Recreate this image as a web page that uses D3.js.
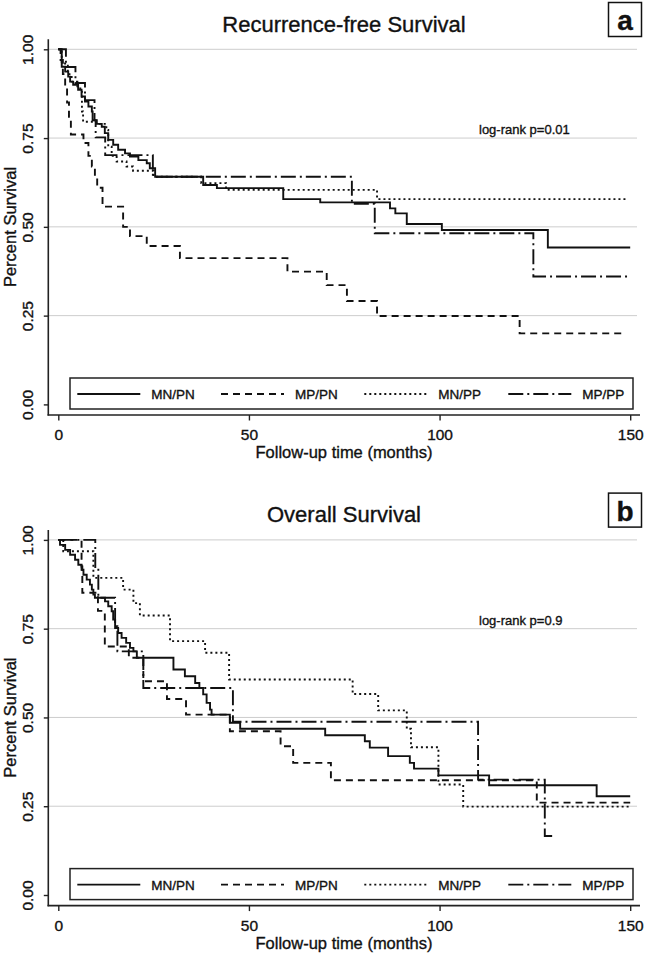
<!DOCTYPE html>
<html>
<head>
<meta charset="utf-8">
<script src="https://cdn.jsdelivr.net/npm/d3@7/dist/d3.min.js"></script>
<style>
  html, body { margin: 0; padding: 0; background: #fff; }
  svg { display: block; font-family: "Liberation Sans", Arial, Helvetica, sans-serif; }
  svg text { stroke: #111; stroke-width: 0.35px; }
</style>
</head>
<body>
<svg id="chart" width="646" height="955"></svg>
<script>
// ---------- DATA ----------
const groups = ["MN/PN", "MP/PN", "MN/PP", "MP/PP"];
const xTicks = [0, 50, 100, 150];
const yTicks = [0, 0.25, 0.5, 0.75, 1];
const yTickLabels = ["0.00", "0.25", "0.50", "0.75", "1.00"];
const panelTitles = ["Recurrence-free Survival", "Overall Survival"];
const panelLetters = ["a", "b"];
const logrankTexts = ["log-rank p=0.01", "log-rank p=0.9"];

// [time (months), survival] step points — Recurrence-free survival
const rfsMNPN = [[0,1],[0.9,0.951],[1.8,0.937],[2.6,0.923],[3.1,0.909],[3.9,0.90],[5.2,0.886],[6.1,0.867],[7.0,0.853],[7.9,0.839],[8.8,0.825],[9.0,0.80],[10.1,0.79],[11.4,0.782],[12.2,0.764],[13.1,0.745],[14.4,0.731],[15.7,0.717],[17.5,0.707],[18.8,0.698],[21,0.688],[23.2,0.679],[24,0.665],[25.4,0.641],[38,0.618],[41.6,0.609],[59,0.578],[68.7,0.569],[87,0.552],[88.4,0.538],[91.4,0.508],[100.6,0.491],[128.4,0.442],[150,0.442]];
const rfsMPPN = [[0,1],[0.6,0.97],[1.2,0.93],[1.8,0.89],[2.3,0.85],[2.8,0.81],[3.3,0.76],[6.6,0.736],[7.9,0.70],[8.8,0.67],[9.6,0.64],[10.2,0.61],[11.6,0.557],[17,0.50],[18.8,0.474],[23.2,0.446],[31.9,0.412],[60.1,0.374],[70.4,0.336],[75.7,0.291],[83.6,0.249],[121,0.20],[148.7,0.20]];
const rfsMNPP = [[0,1],[0.9,0.96],[2.5,0.93],[3.5,0.909],[5,0.89],[6.2,0.825],[6.5,0.796],[9.9,0.79],[12.6,0.773],[13.1,0.726],[14,0.70],[15.3,0.684],[17.9,0.67],[19.6,0.658],[25,0.641],[37.5,0.623],[44,0.604],[83.6,0.578],[149,0.578]];
const rfsMPPP = [[0,1],[2.0,0.95],[4.5,0.905],[7.0,0.857],[9.5,0.80],[9.8,0.752],[12.3,0.702],[24.8,0.641],[77,0.565],[83,0.482],[124.6,0.36],[150,0.36]];

// Overall survival
const osMNPN = [[0,1],[0.45,0.986],[1.8,0.972],[3.1,0.958],[4.4,0.944],[5.25,0.93],[6.1,0.916],[6.6,0.902],[7.45,0.888],[8.3,0.874],[8.8,0.86],[9.2,0.846],[9.6,0.837],[12.25,0.827],[13.1,0.813],[14,0.799],[14.4,0.776],[14.9,0.752],[15.7,0.738],[16.6,0.724],[17.8,0.71],[18.8,0.696],[19.7,0.686],[20.6,0.668],[30.2,0.635],[33.2,0.616],[35.9,0.597],[37,0.583],[38,0.565],[38.9,0.541],[39.8,0.522],[40.2,0.508],[45,0.485],[47.7,0.468],[70,0.45],[80.4,0.433],[81.7,0.415],[86.5,0.391],[92.2,0.372],[93.3,0.356],[99.7,0.337],[113,0.309],[141.2,0.278],[150,0.278]];
const osMPPN = [[0,1],[6.1,0.925],[6.3,0.851],[10.4,0.80],[12.2,0.70],[18.5,0.668],[22.3,0.602],[28.5,0.552],[33.5,0.508],[45,0.461],[58.3,0.419],[61.6,0.372],[71.5,0.323],[125.5,0.26],[150,0.26]];
const osMNPP = [[0,1],[1.3,0.968],[9.2,0.893],[17,0.86],[19.7,0.822],[21.4,0.787],[29.3,0.715],[38.5,0.682],[44.8,0.607],[77.2,0.566],[83.9,0.52],[91.4,0.468],[92.5,0.416],[99.7,0.311],[106.2,0.249],[150,0.249]];
const osMPPP = [[0,1],[9.7,0.92],[10.5,0.837],[14.9,0.757],[15.5,0.686],[22.3,0.583],[45.8,0.488],[110.1,0.325],[127.6,0.166],[129.8,0.166]];

const panelSeries = [
  [rfsMNPN, rfsMPPN, rfsMNPP, rfsMPPP],
  [osMNPN, osMPPN, osMNPP, osMPPP]
];

// ---------- STYLE ----------
const dashes = [null, "7,5", "2,3", "15,4,2,4"];
const panelOffsets = [0, 490.6];

const svg = d3.select("#chart");

const x = d3.scaleLinear().domain([0, 150]).range([58.3, 630.2]);
const y = d3.scaleLinear().domain([0, 1]).range([404.4, 49.3]);

panelSeries.forEach((series, p) => {
  const g = svg.append("g").attr("transform", `translate(0,${panelOffsets[p]})`);

  // grid lines
  g.selectAll(".grid").data(yTicks.filter(v => v > 0)).enter().append("line")
    .attr("x1", 48.3).attr("x2", 637)
    .attr("y1", d => y(d)).attr("y2", d => y(d))
    .attr("stroke", "#cdcdcd").attr("stroke-width", 1);

  // Y axis
  const yAxis = d3.axisLeft(y).tickValues(yTicks).tickSize(4.5).tickFormat((d, i) => yTickLabels[i]);
  const ya = g.append("g").attr("transform", "translate(48.3,0)").call(yAxis);
  ya.select(".domain").remove();
  ya.append("line").attr("x1", 0).attr("x2", 0).attr("y1", 39.3).attr("y2", 415.6)
    .attr("stroke", "#222").attr("stroke-width", 1.6);
  ya.selectAll(".tick line").attr("stroke", "#222").attr("stroke-width", 1.4);
  ya.selectAll(".tick text")
    .attr("x", null).attr("dy", null)
    .attr("transform", "translate(-15.5,0) rotate(-90)")
    .attr("text-anchor", "middle")
    .attr("y", 0)
    .attr("fill", "#111")
    .style("font-size", "15.5px");

  // X axis
  const xAxis = d3.axisBottom(x).tickValues(xTicks).tickSize(5.5).tickFormat(d3.format("d"));
  const xa = g.append("g").attr("transform", "translate(0,415)").call(xAxis);
  xa.select(".domain").remove();
  xa.append("line").attr("x1", 47.5).attr("x2", 640).attr("y1", 0).attr("y2", 0)
    .attr("stroke", "#222").attr("stroke-width", 1.6);
  xa.selectAll(".tick line").attr("stroke", "#222").attr("stroke-width", 1.4);
  xa.selectAll(".tick text").attr("y", 25).attr("dy", null)
    .attr("fill", "#111").style("font-size", "15.5px");

  // axis titles
  g.append("text").attr("x", 344).attr("y", 458)
    .attr("text-anchor", "middle").style("font-size", "16.5px").attr("fill", "#111")
    .text("Follow-up time (months)");
  g.append("text").attr("transform", "translate(16,227) rotate(-90)")
    .attr("text-anchor", "middle").style("font-size", "16.5px").attr("fill", "#111")
    .text("Percent Survival");

  // title
  g.append("text").attr("x", 344).attr("y", 31.5)
    .attr("text-anchor", "middle").style("font-size", "22px").attr("fill", "#111")
    .text(panelTitles[p]);

  // letter box
  g.append("rect").attr("x", 608.5).attr("y", 2.5).attr("width", 33).attr("height", 34)
    .attr("fill", "#fff").attr("stroke", "#111").attr("stroke-width", 1.5);
  g.append("text").attr("x", 625).attr("y", 30).attr("text-anchor", "middle")
    .style("font-size", "28px").style("font-weight", "bold").attr("fill", "#111")
    .text(panelLetters[p]);

  // log-rank annotation
  g.append("text").attr("x", 479).attr("y", 134)
    .style("font-size", "13px").attr("fill", "#111")
    .text(logrankTexts[p]);

  // curves
  const line = d3.line().x(d => x(d[0])).y(d => y(d[1])).curve(d3.curveStepAfter);
  series.forEach((s, i) => {
    g.append("path").datum(s).attr("d", line)
      .attr("fill", "none").attr("stroke", "#111").attr("stroke-width", 1.9)
      .attr("stroke-dasharray", dashes[i]);
  });

  // legend
  g.append("rect").attr("x", 70).attr("y", 378).attr("width", 563).attr("height", 31)
    .attr("fill", "#fff").attr("stroke", "#222").attr("stroke-width", 1.5);
  const legX = [77.3, 221, 364.3, 508.3];
  groups.forEach((name, i) => {
    g.append("line").attr("x1", legX[i]).attr("x2", legX[i] + 63)
      .attr("y1", 394).attr("y2", 394)
      .attr("stroke", "#111").attr("stroke-width", 1.9)
      .attr("stroke-dasharray", dashes[i]);
    g.append("text").attr("x", legX[i] + 74).attr("y", 399)
      .style("font-size", "13.5px").attr("fill", "#111")
      .text(name);
  });
});
</script>
</body>
</html>
